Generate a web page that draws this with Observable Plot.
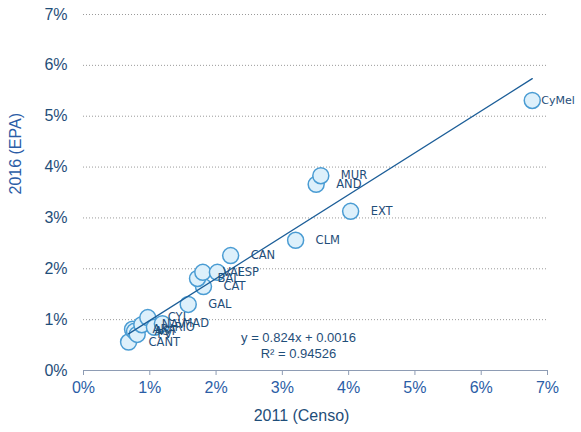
<!DOCTYPE html>
<html>
<head>
<meta charset="utf-8">
<script src="https://cdn.jsdelivr.net/npm/d3@7"></script>
<script src="https://cdn.jsdelivr.net/npm/@observablehq/plot@0.6"></script>
<style>
  html, body { margin: 0; padding: 0; background: #fff; }
  #chart svg { display: block; }
</style>
</head>
<body>
<div id="chart"></div>
<script>
// Data (shares as fractions)
const regions  = ["CANT","ARA","AST","PV","NAV","CYL","RIO","MAD","GAL","CAT","BAL","VAL","ESP","CAN","CLM","AND","MUR","EXT","CyMel"];
const censo2011 = [0.0068,0.0074,0.0077,0.0081,0.0088,0.0097,0.0107,0.0119,0.0158,0.0181,0.0172,0.0180,0.0202,0.0222,0.0320,0.0351,0.0358,0.0403,0.0677];
const epa2016   = [0.0056,0.0081,0.0077,0.0071,0.0090,0.0104,0.0085,0.0092,0.0130,0.0165,0.0181,0.0193,0.0193,0.0226,0.0256,0.0366,0.0383,0.0313,0.0531];
const xTicks = [0, 0.01, 0.02, 0.03, 0.04, 0.05, 0.06, 0.07];
const yTicks = [0, 0.01, 0.02, 0.03, 0.04, 0.05, 0.06, 0.07];
const slope = 0.824;
const intercept = 0.0016;
const r2 = 0.94526;
const xTitle = "2011 (Censo)";
const yTitle = "2016 (EPA)";

const points = regions.map((r, i) => ({region: r, x: censo2011[i], y: epa2016[i]}));
const [xMin, xMax] = d3.extent(censo2011);
const trend = [xMin, xMax].map(x => ({x, y: slope * x + intercept}));
const eqText = `y = ${slope}x + ${intercept}\nR² = ${r2}`;

const navy = "#1F4E79";
const pct = d3.format(".0%");

const chart = Plot.plot({
  width: 581,
  height: 432,
  marginLeft: 83,
  marginRight: 34,
  marginTop: 14,
  marginBottom: 62,
  style: {fontFamily: "'Liberation Sans', Arial, sans-serif", background: "#fff"},
  x: {domain: [0, 0.07]},
  y: {domain: [0, 0.07]},
  marks: [
    Plot.gridY(yTicks.filter(d => d > 0), {stroke: "#9A9A9A", strokeOpacity: 1, strokeDasharray: "1,2", strokeWidth: 1}),
    Plot.ruleY([0], {stroke: "#8E9CB4", strokeWidth: 1.2}),
    Plot.axisX(xTicks, {tickFormat: pct, tickSize: 5, tickPadding: 6, stroke: "#8E9CB4", fill: "#2B5DA6", fontSize: 16, label: null}),
    Plot.axisY(yTicks, {tickFormat: pct, tickSize: 0, tickPadding: 16, fill: navy, fontSize: 16, label: null}),
    Plot.dot(points, {x: "x", y: "y", r: 8, fill: "#DDF0FB", stroke: "#4A9CD3", strokeWidth: 1.5}),
    Plot.line(trend, {x: "x", y: "y", stroke: "#1C5E98", strokeWidth: 1.3}),
    Plot.text(points.filter(d => d.region !== "CyMel"), {x: "x", y: "y", text: "region", dx: 20, textAnchor: "start", fill: navy, fontSize: 11.5, fontFamily: "'DejaVu Sans', Verdana, sans-serif"}),
    Plot.text(points.filter(d => d.region === "CyMel"), {x: "x", y: "y", text: "region", dx: 9, textAnchor: "start", fill: navy, fontSize: 11, fontFamily: "'DejaVu Sans', Verdana, sans-serif"}),
    Plot.text([eqText], {frameAnchor: "bottom", lineAnchor: "middle", dx: -17, dy: -26, fontSize: 13, lineHeight: 1.25, fill: navy}),
    Plot.text([xTitle], {frameAnchor: "bottom", lineAnchor: "middle", dx: -14, dy: 45, fontSize: 16, fill: navy}),
    Plot.text([yTitle], {frameAnchor: "left", lineAnchor: "middle", rotate: -90, dx: -68, dy: 2, fontSize: 16, fill: "#2B5DA6"})
  ]
});
document.getElementById("chart").appendChild(chart);
</script>
</body>
</html>
